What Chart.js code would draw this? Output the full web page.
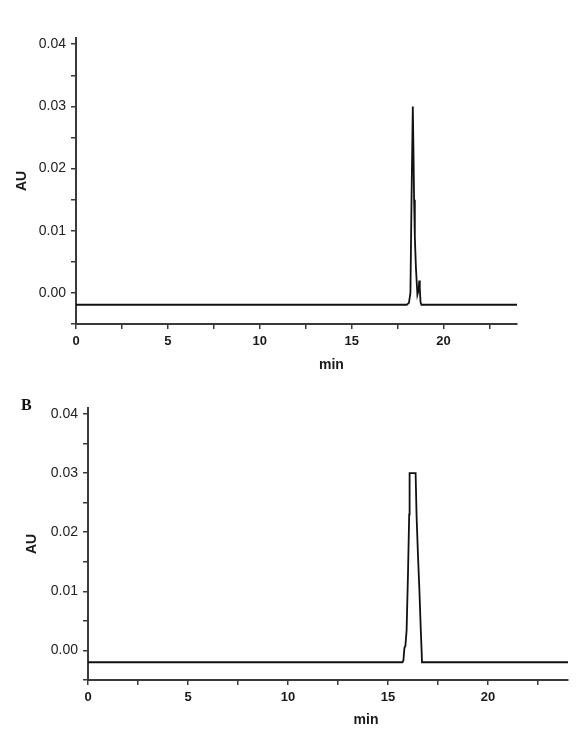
<!DOCTYPE html>
<html>
<head>
<meta charset="utf-8">
<script src="https://cdn.jsdelivr.net/npm/chart.js@4"></script>
<style>
    html, body { margin: 0; padding: 0; background: #fff; }
    body { width: 582px; height: 750px; position: relative; overflow: hidden; }
    .panel { position: absolute; left: 0; width: 582px; }
    #panel-a { top: 0; height: 380px; }
    #panel-b { top: 380px; height: 370px; }
    #label-b { position: absolute; left: 21px; top: 396px; font: bold 16px "Liberation Serif", "DejaVu Serif", serif; color: #111; }
</style>
</head>
<body>
<div class="panel" id="panel-a"><canvas id="chart-a" width="582" height="380"></canvas></div>
<div class="panel" id="panel-b"><canvas id="chart-b" width="582" height="370"></canvas></div>
<div id="label-b">B</div>
<script>
// Chromatogram A (time in min, absorbance in AU)
const timeA = [0, 18.0, 18.12, 18.2, 18.26, 18.33, 18.36, 18.4, 18.44, 18.5, 18.58, 18.65, 18.68, 18.71, 18.75, 18.8, 24];
const auA   = [-0.0019, -0.0019, -0.0016, 0.0, 0.015, 0.030, 0.024, 0.015, 0.009, 0.004, -0.0003, 0.0005, 0.002, 0.0008, -0.0015, -0.0019, -0.0019];

// Chromatogram B
const timeB = [0, 15.72, 15.77, 15.82, 15.87, 15.93, 16.0, 16.06, 16.08, 16.38, 16.43, 16.5, 16.57, 16.64, 16.68, 16.7, 24];
const auB   = [-0.002, -0.002, -0.0017, 0.0004, 0.0008, 0.0034, 0.013, 0.023, 0.030, 0.030, 0.0226, 0.016, 0.0102, 0.0034, 0.0, -0.002, -0.002];

// Axis ticks (major ones get a label)
const xTicks = [0, 2.5, 5, 7.5, 10, 12.5, 15, 17.5, 20, 22.5];
const xLabels = [0, 5, 10, 15, 20];
const yTicks = [-0.005, 0, 0.005, 0.01, 0.015, 0.02, 0.025, 0.03, 0.035, 0.04];
const yLabels = [0, 0.01, 0.02, 0.03, 0.04];

const axisColor = '#3a3a3a';

// Draws the "min" and "AU" axis titles where the original figure has them
const axisTitles = {
    id: 'axisTitles',
    afterDraw(chart, args, opts) {
        const { ctx, chartArea, scales } = chart;
        ctx.save();
        ctx.fillStyle = '#1a1a1a';
        ctx.textAlign = 'center';
        ctx.textBaseline = 'middle';
        ctx.font = 'bold 14px "Liberation Sans", Arial, sans-serif';
        ctx.fillText('min', scales.x.getPixelForValue(13.9), chartArea.bottom + opts.minOffset);
        ctx.translate(opts.auX, (chartArea.top + chartArea.bottom) / 2);
        ctx.rotate(-Math.PI / 2);
        ctx.fillText('AU', 0, 0);
        ctx.restore();
    }
};

function isIn(list, v) {
    return list.some(l => Math.abs(l - v) < 1e-9);
}

function makeChart(canvasId, times, values, geo) {
    return new Chart(document.getElementById(canvasId), {
        type: 'line',
        data: {
            datasets: [{
                data: times.map((t, i) => ({ x: t, y: values[i] })),
                borderColor: '#111',
                borderWidth: 1.8,
                pointRadius: 0,
                tension: 0,
                fill: false
            }]
        },
        options: {
            responsive: false,
            animation: false,
            layout: { padding: { top: geo.top, right: geo.right, left: 0, bottom: 0 } },
            plugins: {
                legend: { display: false },
                tooltip: { enabled: false },
                axisTitles: { minOffset: geo.minOffset, auX: geo.auX }
            },
            scales: {
                x: {
                    type: 'linear',
                    min: 0,
                    max: 24,
                    afterBuildTicks: s => { s.ticks = xTicks.map(v => ({ value: v })); },
                    afterFit: s => { s.height = geo.xHeight; },
                    grid: { display: true, drawOnChartArea: false, drawTicks: true, tickLength: 5, color: axisColor, lineWidth: 1.5 },
                    border: { display: true, color: axisColor, width: 2 },
                    ticks: {
                        autoSkip: false,
                        maxRotation: 0,
                        padding: 5,
                        color: '#1a1a1a',
                        font: { family: '"Liberation Sans", Arial, sans-serif', size: 13, weight: 'bold' },
                        callback: v => isIn(xLabels, v) ? String(v) : ''
                    }
                },
                y: {
                    type: 'linear',
                    min: -0.005,
                    max: 0.041,
                    afterBuildTicks: s => { s.ticks = yTicks.map(v => ({ value: v })); },
                    afterFit: s => { s.width = geo.yWidth; },
                    grid: { display: true, drawOnChartArea: false, drawTicks: true, tickLength: 5, color: axisColor, lineWidth: 1.5 },
                    border: { display: true, color: axisColor, width: 2 },
                    ticks: {
                        autoSkip: false,
                        padding: 5,
                        color: '#222',
                        font: { family: '"Liberation Sans", Arial, sans-serif', size: 14 },
                        callback: v => isIn(yLabels, v) ? v.toFixed(2) : ''
                    }
                }
            }
        },
        plugins: [axisTitles]
    });
}

makeChart('chart-a', timeA, auA, { top: 38, right: 65, yWidth: 76, xHeight: 56, minOffset: 41, auX: 22 });
makeChart('chart-b', timeB, auB, { top: 28, right: 14, yWidth: 88, xHeight: 70, minOffset: 40, auX: 32 });
</script>
</body>
</html>
